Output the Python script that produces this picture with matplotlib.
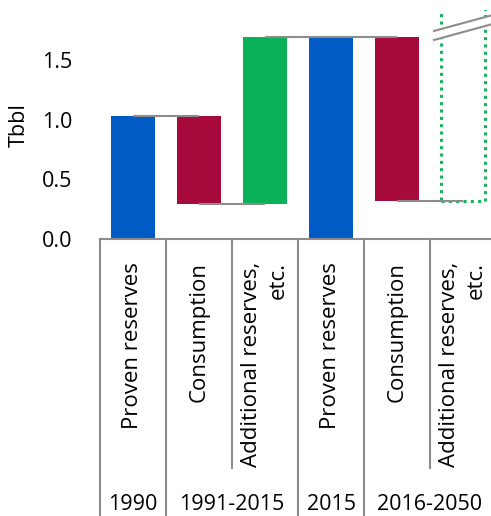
import matplotlib.pyplot as plt
import matplotlib.transforms as mtransforms
from matplotlib.patches import Rectangle, Polygon

plt.rcParams['font.family'] = ['Open Sans', 'DejaVu Sans']

# waterfall data (Tbbl)
categories = ['Proven reserves', 'Consumption', 'Additional reserves,\netc.',
              'Proven reserves', 'Consumption', 'Additional reserves,\netc.']
bar_bottom = [0.0, 0.29, 0.29, 0.0, 0.32, 0.32]
bar_top = [1.03, 1.03, 1.70, 1.70, 1.70, 2.40]
bar_kind = ['proven', 'consumption', 'additional', 'proven', 'consumption', 'projected']
periods = ['1990', '1991-2015', '2015', '2016-2050']
period_span = [(0, 0), (1, 2), (3, 3), (4, 5)]
connectors = [(0, 1, 1.03), (1, 2, 0.29), (2, 4, 1.70), (4, 5, 0.32)]
yticks = [0.0, 0.5, 1.0, 1.5]

colors = {'proven': '#005BC5', 'consumption': '#A60B3C', 'additional': '#0BB158',
          'projected': '#14B45A'}
grey = '#8C8C8C'
fs = 15.5

fig = plt.figure(figsize=(4.91, 5.16), dpi=100)
ax = fig.add_axes([100 / 491, 1 - 239 / 516, 396 / 491, 228.5 / 516])

width = 0.68
for i, (b, t, k) in enumerate(zip(bar_bottom, bar_top, bar_kind)):
    if k == 'projected':
        ax.add_patch(Rectangle((i - width / 2, b), width, t - b, fill=False,
                               edgecolor=colors[k], linewidth=2.2,
                               linestyle=(0, (1, 1.4)), zorder=2))
    else:
        ax.bar(i, t - b, bottom=b, width=width, color=colors[k], zorder=2)

for a, b, y in connectors:
    ax.plot([a, b], [y, y], color=grey, linewidth=1.5, zorder=3, solid_capstyle='butt')

# break marks on the projected bar
x0, x1 = 4.56, 5.45
ax.add_patch(Polygon([(x0, 1.672), (x1, 1.807), (x1, 1.882), (x0, 1.748)],
                     closed=True, facecolor='white', edgecolor='none', zorder=4))
ax.plot([x0, x1], [1.748, 1.882], color=grey, linewidth=1.5, zorder=5)
ax.plot([x0, x1], [1.672, 1.807], color=grey, linewidth=1.5, zorder=5)

ax.set_xlim(-0.5, 5.5)
ax.set_ylim(0, 1.92)
ax.set_yticks(yticks)
ax.set_yticklabels(['{:.1f}'.format(v) for v in yticks])
ax.tick_params(axis='y', length=0, pad=20, labelsize=fs)
ax.set_xticks([])
for s in ['top', 'right', 'left']:
    ax.spines[s].set_visible(False)
ax.spines['bottom'].set_color(grey)
ax.spines['bottom'].set_linewidth(1.5)
ax.set_ylabel('Tbbl', fontsize=fs)
ax.yaxis.set_label_coords(-0.177, 0.5)

trans = mtransforms.blended_transform_factory(ax.transData, ax.transAxes)
for i, label in enumerate(categories):
    ax.text(i, -0.1, label, transform=trans, rotation=90, ha='center', va='top',
            multialignment='right', fontsize=16, linespacing=1.35, clip_on=False)

# separators between categories
short = [2, 5]
for i in range(6):
    y_end = -1.002 if i in short else -1.25
    ax.plot([i - 0.5, i - 0.5], [0, y_end], transform=trans, color=grey,
            linewidth=1.5, clip_on=False)

for name, (a, b) in zip(periods, period_span):
    ax.text((a + b) / 2, -1.164, name, transform=trans, ha='center', va='center',
            fontsize=fs, clip_on=False)

fig.savefig('out.png', dpi=100)
